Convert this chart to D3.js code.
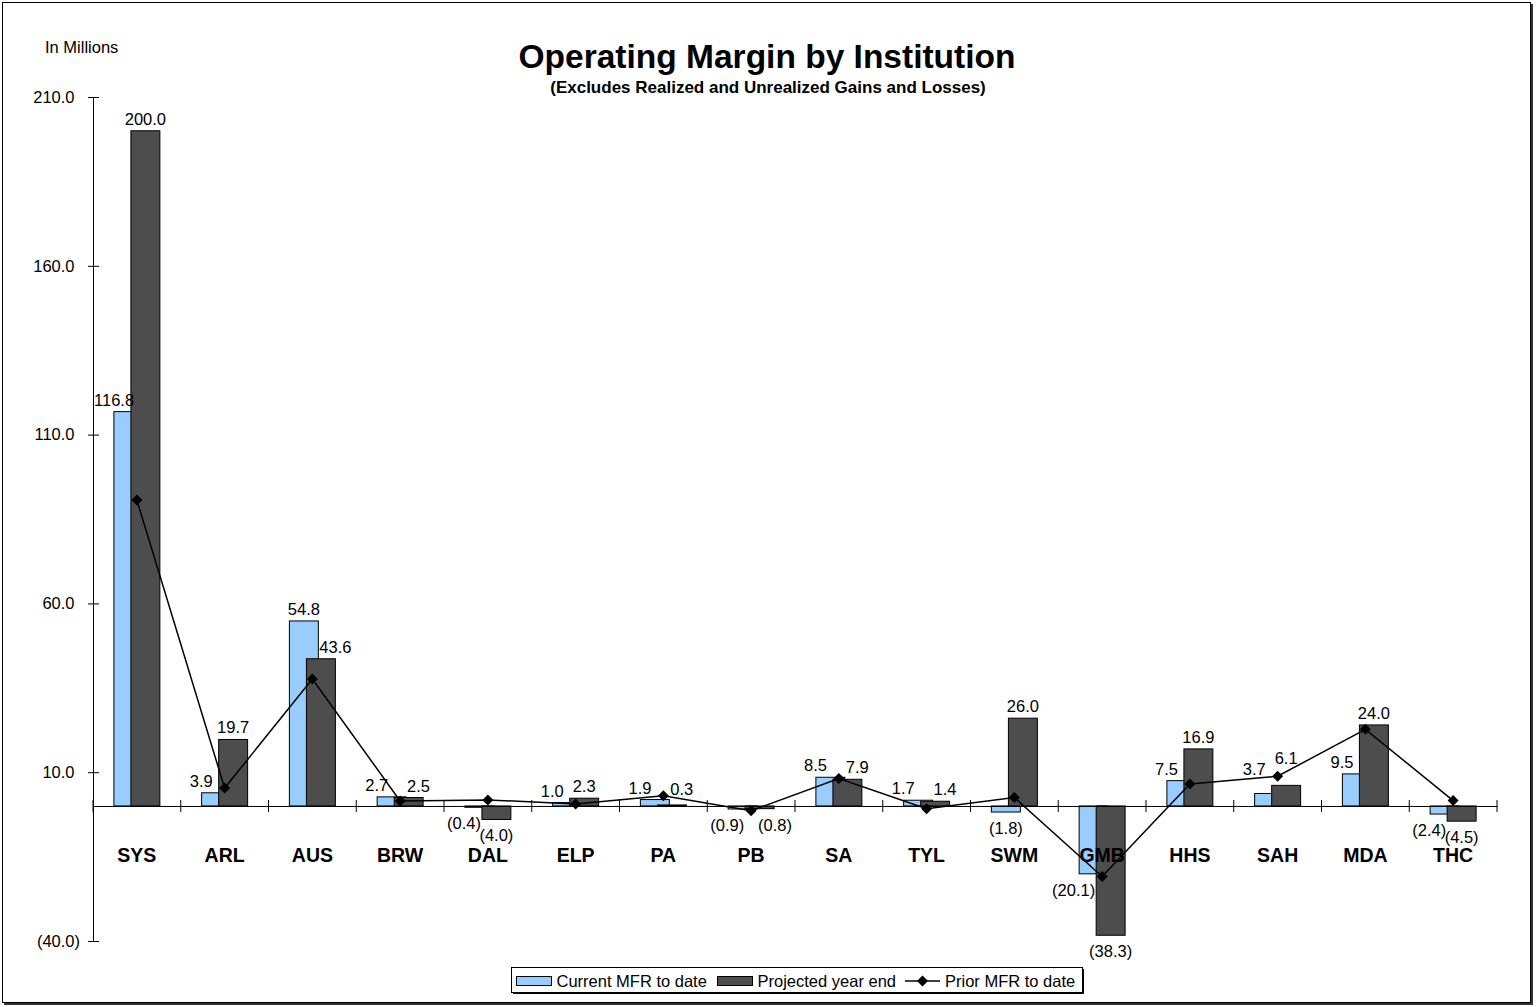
<!DOCTYPE html>
<html>
<head>
<meta charset="utf-8">
<script src="https://cdn.jsdelivr.net/npm/d3@7/dist/d3.min.js"></script>
<style>
  html, body { margin: 0; padding: 0; background: #fff; }
  svg { display: block; font-family: "Liberation Sans", Arial, sans-serif; }
</style>
</head>
<body>
<svg id="chart" width="1536" height="1007"></svg>
<script>
// Operating margin by institution, in millions
const categories = ["SYS", "ARL", "AUS", "BRW", "DAL", "ELP", "PA", "PB", "SA", "TYL", "SWM", "GMB", "HHS", "SAH", "MDA", "THC"];
const currentMFR = [116.8, 3.9, 54.8, 2.7, -0.4, 1.0, 1.9, -0.9, 8.5, 1.7, -1.8, -20.1, 7.5, 3.7, 9.5, -2.4];
const projectedYE = [200.0, 19.7, 43.6, 2.5, -4.0, 2.3, 0.3, -0.8, 7.9, 1.4, 26.0, -38.3, 16.9, 6.1, 24.0, -4.5];
const priorMFR = [90.6, 5.3, 37.6, 1.5, 1.8, 0.6, 3.0, -1.4, 8.1, -0.8, 2.5, -20.9, 6.5, 8.8, 22.7, 1.6];
const yTicks = [-40, 10, 60, 110, 160, 210];
const seriesNames = ["Current MFR to date", "Projected year end", "Prior MFR to date"];

const colors = { current: "#99CCFF", projected: "#4D4D4D" };

const svg = d3.select("#chart");
const W = 1536, H = 1007;
const plot = { left: 93, right: 1497, top: 97, bottom: 941 };

const fmt = v => v < 0 ? "(" + d3.format(".1f")(-v) + ")" : d3.format(".1f")(v);

// chart area frame with a thin drop shadow on the right and bottom
svg.append("rect").attr("x", 4).attr("y", 4).attr("width", W - 7).attr("height", H - 6)
  .attr("fill", "#333");
svg.append("rect").attr("x", 2.5).attr("y", 2.5).attr("width", W - 8).attr("height", H - 7)
  .attr("fill", "#fff").attr("stroke", "#000").attr("stroke-width", 1);

const x = d3.scaleBand().domain(categories).range([plot.left, plot.right]).padding(0);
const y = d3.scaleLinear().domain([-40, 210]).range([plot.bottom, plot.top]);

const bw = x.bandwidth();
const barW = bw * 0.33;
const step = bw * 0.194;
const cx = c => x(c) + bw / 2;
const curX = c => cx(c) - (barW + step) / 2;
const projX = c => curX(c) + step;

// titles
svg.append("text").attr("x", 767).attr("y", 68).attr("text-anchor", "middle")
  .attr("font-size", 33.5).attr("font-weight", "bold").text("Operating Margin by Institution");
svg.append("text").attr("x", 768).attr("y", 93).attr("text-anchor", "middle")
  .attr("font-size", 17).attr("font-weight", "bold").text("(Excludes Realized and Unrealized Gains and Losses)");
svg.append("text").attr("x", 45).attr("y", 53).attr("font-size", 16.5).text("In Millions");

// y axis with cross ticks; positive labels leave room for the closing parenthesis
const yAxis = svg.append("g").attr("transform", `translate(${plot.left},0)`)
  .call(d3.axisLeft(y).tickValues(yTicks).tickFormat(fmt).tickSizeOuter(0).tickSizeInner(5).tickPadding(8));
yAxis.select(".domain").attr("stroke", "#000");
yAxis.selectAll(".tick line").attr("x1", -5).attr("x2", 6).attr("stroke", "#000");
yAxis.selectAll(".tick text").attr("font-size", 16.5).attr("font-family", "Liberation Sans, Arial, sans-serif")
  .attr("fill", "#000").attr("dx", d => d >= 0 ? "-0.333em" : 0);

const rows = categories.map((c, i) => ({ c, cur: currentMFR[i], proj: projectedYE[i], prior: priorMFR[i] }));

// bars: current first, projected overlapping on top
const bars = svg.append("g");
bars.selectAll("rect.cur").data(rows).join("rect").attr("class", "cur")
  .attr("x", d => curX(d.c)).attr("width", barW)
  .attr("y", d => y(Math.max(0, d.cur))).attr("height", d => Math.abs(y(d.cur) - y(0)))
  .attr("fill", colors.current).attr("stroke", "#000").attr("stroke-width", 1);
bars.selectAll("rect.proj").data(rows).join("rect").attr("class", "proj")
  .attr("x", d => projX(d.c)).attr("width", barW)
  .attr("y", d => y(Math.max(0, d.proj))).attr("height", d => Math.abs(y(d.proj) - y(0)))
  .attr("fill", colors.projected).attr("stroke", "#000").attr("stroke-width", 1);

// x axis at zero with cross ticks on category boundaries
const y0 = y(0);
const xAxis = svg.append("g").attr("transform", `translate(0,${y0})`)
  .call(d3.axisBottom(x).tickSize(0).tickPadding(42));
xAxis.select(".domain").attr("stroke", "#000");
xAxis.selectAll(".tick text").attr("font-size", 19.5).attr("font-weight", "bold")
  .attr("font-family", "Liberation Sans, Arial, sans-serif").attr("fill", "#000");
const bounds = categories.map(c => x(c)).concat([plot.right]);
svg.append("g").selectAll("line").data(bounds).join("line")
  .attr("x1", d => d).attr("x2", d => d).attr("y1", y0 - 6).attr("y2", y0 + 6)
  .attr("stroke", "#000");

// prior MFR line geometry (also used to keep value labels off the line)
const pts = rows.map(d => [cx(d.c), y(d.prior)]);
const mk = 5.5;

// highest point of the line or a marker inside box b, or null when b is clear
function obstacleTop(b) {
  let top = null;
  const pad = 2;
  for (let i = 0; i < pts.length - 1; i++) {
    const [ax, ay] = pts[i], [bx, by] = pts[i + 1];
    const lo = Math.max(b.x0, ax), hi = Math.min(b.x1, bx);
    if (lo > hi) continue;
    const yAt = xx => ay + (by - ay) * (xx - ax) / (bx - ax);
    const ya = yAt(lo), yb = yAt(hi);
    const smin = Math.min(ya, yb), smax = Math.max(ya, yb);
    if (smax >= b.y0 && smin <= b.y1) top = top === null ? smin : Math.min(top, smin);
  }
  pts.forEach(([px, py]) => {
    if (px + mk >= b.x0 && px - mk <= b.x1 && py + mk >= b.y0 - pad && py - mk <= b.y1 + pad) {
      top = top === null ? py - mk : Math.min(top, py - mk);
    }
  });
  return top;
}

// value labels
const labels = svg.append("g").attr("font-size", 16.5).attr("fill", "#000");
const sameSign = (a, b) => (a >= 0) === (b >= 0);
const labelY = v => v >= 0 ? y(v) - 6 : y(v) + 22;
function placeLabel(v, xPos, anchor) {
  const t = labels.append("text").attr("x", xPos).attr("y", labelY(v))
    .attr("text-anchor", anchor).text(fmt(v));
  // keep the label inside the plot, clear of the value axis
  const b0 = t.node().getBBox();
  if (b0.x < plot.left + 1) t.attr("x", xPos + (plot.left + 1 - b0.x));
  if (v >= 0) {
    for (let k = 0; k < 4; k++) {
      const bb = t.node().getBBox();
      const base = +t.attr("y");
      const top = obstacleTop({ x0: bb.x + 3, x1: bb.x + bb.width - 3, y0: base - 9, y1: base });
      if (top === null) break;
      t.attr("y", top - 3);
    }
  }
}
rows.forEach(d => {
  const curDominant = !sameSign(d.cur, d.proj) || (Math.abs(d.cur) - Math.abs(d.proj) > 5);
  placeLabel(d.cur,
    curDominant ? curX(d.c) + barW / 2 : projX(d.c) + (d.cur < 0 ? -1 : -6),
    curDominant ? "middle" : "end");
  const curBeyond = sameSign(d.cur, d.proj) && Math.abs(d.cur) >= Math.abs(d.proj);
  placeLabel(d.proj, curBeyond ? curX(d.c) + barW + 1 : projX(d.c) + barW / 2, curBeyond ? "start" : "middle");
});

// prior MFR line with diamond markers
const line = d3.line().x(d => cx(d.c)).y(d => y(d.prior));
svg.append("path").datum(rows).attr("d", line)
  .attr("fill", "none").attr("stroke", "#000").attr("stroke-width", 1.5);
const diamond = `M0,${-mk}L${mk},0L0,${mk}L${-mk},0Z`;
svg.append("g").selectAll("path").data(rows).join("path")
  .attr("transform", d => `translate(${cx(d.c)},${y(d.prior)})`)
  .attr("d", diamond).attr("fill", "#000");

// legend
const lg = svg.append("g");
lg.append("rect").attr("x", 511.5).attr("y", 967.5).attr("width", 571).attr("height", 25)
  .attr("fill", "#fff").attr("stroke", "#000");
lg.append("line").attr("x1", 1083.5).attr("y1", 969).attr("x2", 1083.5).attr("y2", 993.5).attr("stroke", "#000");
lg.append("line").attr("x1", 513).attr("y1", 993.5).attr("x2", 1083.5).attr("y2", 993.5).attr("stroke", "#000");
const legendItems = [
  { x: 516.5, type: "rect", fill: colors.current, name: seriesNames[0] },
  { x: 717.5, type: "rect", fill: colors.projected, name: seriesNames[1] },
  { x: 905, type: "line", name: seriesNames[2] }
];
legendItems.forEach(it => {
  if (it.type === "rect") {
    lg.append("rect").attr("x", it.x).attr("y", 976.5).attr("width", 35).attr("height", 9)
      .attr("fill", it.fill).attr("stroke", "#000");
    lg.append("text").attr("x", it.x + 40).attr("y", 987).attr("font-size", 16.5).text(it.name);
  } else {
    lg.append("line").attr("x1", it.x).attr("x2", it.x + 35).attr("y1", 981).attr("y2", 981)
      .attr("stroke", "#000").attr("stroke-width", 1.5);
    lg.append("path").attr("transform", `translate(${it.x + 17.5},981)`).attr("d", diamond).attr("fill", "#000");
    lg.append("text").attr("x", it.x + 40).attr("y", 987).attr("font-size", 16.5).text(it.name);
  }
});
</script>
</body>
</html>
